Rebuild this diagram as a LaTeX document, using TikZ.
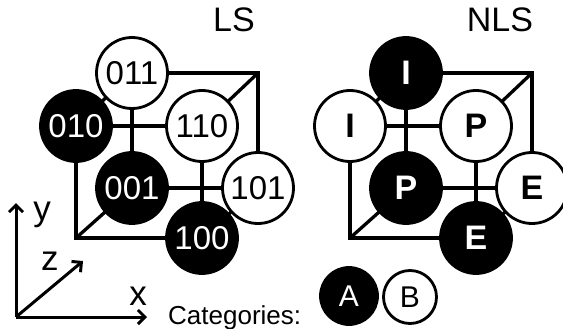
\documentclass[tikz,border=0pt]{standalone}
\usepackage{fontspec}
\setmainfont{Liberation Sans}
\usetikzlibrary{arrows.meta,backgrounds}
\begin{document}
\begin{tikzpicture}[x=1pt,y=-1pt,
  edge/.style={line width=3.3pt},
  vtx/.style={circle,draw=black,line width=2.8pt,minimum size=71pt,inner sep=0pt,font=\fontsize{33}{33}\selectfont},
  catA/.style={vtx,fill=black,text=white},
  catB/.style={vtx,fill=white,text=black},
  boldlbl/.style={font=\fontsize{34}{34}\selectfont\bfseries},
  legendA/.style={catA,minimum size=57pt,font=\fontsize{30}{30}\selectfont},
  legendB/.style={catB,minimum size=53pt,font=\fontsize{30}{30}\selectfont},
  axis/.style={line width=3pt,-{Straight Barb[length=7pt,width=14pt]}},
  axlbl/.style={anchor=base,inner sep=0pt,font=\fontsize{35}{35}\selectfont},
  title/.style={anchor=base,inner sep=0pt,font=\fontsize{34}{34}\selectfont}]
\useasboundingbox (0,0) rectangle (563,329);

% ---------- LS cube ----------
\coordinate (L000) at (76,238);
\coordinate (L111) at (258,73);
\node[catA] (L010) at (76,126) {010};
\node[catB] (L011) at (132,73) {011};
\node[catB] (L110) at (202,126) {110};
\node[catA] (L001) at (132,188) {001};
\node[catB] (L101) at (258,188) {101};
\node[catA] (L100) at (202,238) {100};
\begin{scope}[on background layer]
  \draw[edge] (L010.center) -- (L000) -- (L100.center);
  \draw[edge] (L011.center) -- (L111) -- (L101.center);
  \draw[edge] (L000) -- (L001.center);
  \draw[edge] (L110.center) -- (L111);
  \draw[edge] (L100.center) -- (L110.center);
  \draw[edge] (L100.center) -- (L101.center);
  \draw[edge] (L010.center) -- (L110.center);
  \draw[edge] (L010.center) -- (L011.center);
  \draw[edge] (L001.center) -- (L101.center);
  \draw[edge] (L001.center) -- (L011.center);
\end{scope}

% ---------- NLS cube ----------
\coordinate (N000) at (350,238);
\coordinate (N111) at (532,73);
\node[catB,boldlbl] (N010) at (350,126) {I};
\node[catA,boldlbl] (N011) at (406,73) {I};
\node[catB,boldlbl] (N110) at (476,126) {P};
\node[catA,boldlbl] (N001) at (406,188) {P};
\node[catB,boldlbl] (N101) at (532,188) {E};
\node[catA,boldlbl] (N100) at (476,238) {E};
\begin{scope}[on background layer]
  \draw[edge] (N010.center) -- (N000) -- (N100.center);
  \draw[edge] (N011.center) -- (N111) -- (N101.center);
  \draw[edge] (N000) -- (N001.center);
  \draw[edge] (N110.center) -- (N111);
  \draw[edge] (N100.center) -- (N110.center);
  \draw[edge] (N100.center) -- (N101.center);
  \draw[edge] (N010.center) -- (N110.center);
  \draw[edge] (N010.center) -- (N011.center);
  \draw[edge] (N001.center) -- (N101.center);
  \draw[edge] (N001.center) -- (N011.center);
\end{scope}

% ---------- titles ----------
\node[title] (tLS) at (234,32) {LS};
\node[title] (tNLS) at (500,32) {NLS};

% ---------- axes ----------
\coordinate (O) at (16,317);
\coordinate (Ytip) at (16,203);
\coordinate (Xtip) at (147,317);
\coordinate (Ztip) at (83,261);
\draw[axis] (O) -- (Ytip);
\draw[axis] (O) -- (Xtip);
\draw[axis] (O) -- (Ztip);
\node[axlbl] (ly) at (42,220) {y};
\node[axlbl] (lz) at (50,270) {z};
\node[axlbl] (lx) at (138,305) {x};

% ---------- legend ----------
\node[anchor=base west,inner sep=0pt,font=\fontsize{26}{26}\selectfont] (cat) at (168,324) {Categories:};
\node[legendA] (A) at (349,296) {A};
\node[legendB] (B) at (410,297) {B};
\end{tikzpicture}
\end{document}
